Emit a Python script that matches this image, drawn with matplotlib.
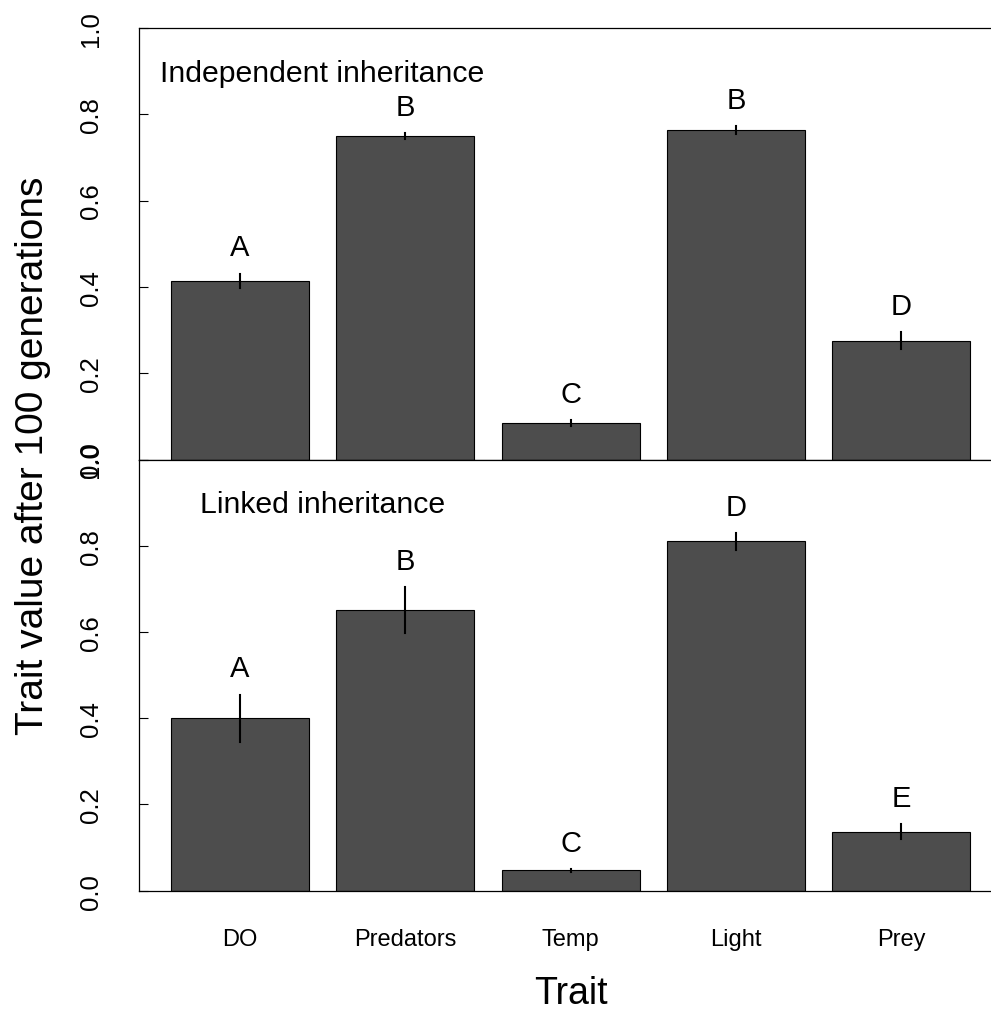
import matplotlib.pyplot as plt
import numpy as np

plt.rcParams['font.family'] = ['Liberation Sans', 'DejaVu Sans']

traits = ['DO', 'Predators', 'Temp', 'Light', 'Prey']

# mean trait value after 100 generations and its standard error
indep_mean = [0.414, 0.750, 0.084, 0.763, 0.275]
indep_se = [0.017, 0.007, 0.007, 0.009, 0.020]
indep_letters = ['A', 'B', 'C', 'B', 'D']

linked_mean = [0.400, 0.651, 0.047, 0.810, 0.137]
linked_se = [0.055, 0.053, 0.003, 0.020, 0.017]
linked_letters = ['A', 'B', 'C', 'D', 'E']

panel_titles = ['Independent inheritance', 'Linked inheritance']

# barplot-style positions: width 1, gap 0.2
x = 0.7 + 1.2 * np.arange(len(traits))
xlim = (-0.032, 6.232)

W, H = 991, 1012
fig = plt.figure(figsize=(W / 100, H / 100), dpi=100)

left_px, right_px = 139, 1002.2
top_px, mid_px, bot_px = 29, 460.5, 891.7
ax_top = fig.add_axes([left_px / W, 1 - mid_px / H,
                       (right_px - left_px) / W, (mid_px - top_px) / H])
ax_bot = fig.add_axes([left_px / W, 1 - bot_px / H,
                       (right_px - left_px) / W, (bot_px - mid_px) / H])

panels = [(ax_top, indep_mean, indep_se, indep_letters),
          (ax_bot, linked_mean, linked_se, linked_letters)]

for (ax, mean, se, letters), title in zip(panels, panel_titles):
    ax.bar(x, mean, width=1.0, color='#4d4d4d', edgecolor='black',
           linewidth=0.8, zorder=2)
    for xi, m, s, lab in zip(x, mean, se, letters):
        ax.plot([xi, xi], [m - s, m + s], color='black', lw=1.5, zorder=3)
        ax.text(xi, m + s + 0.042, lab, ha='center', va='baseline',
                fontsize=21)
    ax.text(1.3, 0.878, title, ha='center', va='baseline', fontsize=21.8)

    ax.set_xlim(*xlim)
    ax.set_ylim(0, 1)
    ax.set_yticks([0, 0.2, 0.4, 0.6, 0.8, 1.0])
    ax.set_yticklabels(['0.0', '0.2', '0.4', '0.6', '0.8', '1.0'],
                       rotation=90, va='center')
    ax.tick_params(axis='y', direction='in', length=6.5, width=0.8,
                   pad=26, labelsize=18.5)
    for sp in ax.spines.values():
        sp.set_linewidth(0.9)

ax_top.set_xticks([])
ax_bot.set_xticks(x)
ax_bot.set_xticklabels(traits)
ax_bot.tick_params(axis='x', length=0, pad=27, labelsize=17)

fig.text(570.6 / W, 1 - 1004 / H, 'Trait', ha='center', va='baseline',
         fontsize=27)
fig.text(33 / W, 1 - 456 / H, 'Trait value after 100 generations',
         ha='center', va='center', rotation=90, fontsize=28)

fig.savefig('out.png', dpi=100, facecolor='white')
